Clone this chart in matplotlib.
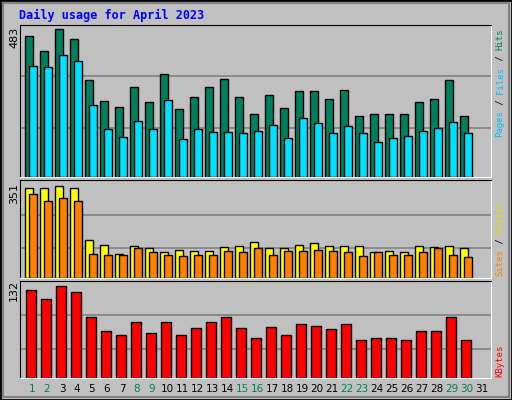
import matplotlib
matplotlib.use("Agg")
import matplotlib.pyplot as plt
from matplotlib.patches import Rectangle

days = list(range(1, 32))
hits = [461, 412, 483, 451, 316, 247, 227, 293, 244, 336, 221, 260, 293, 319, 260,
        204, 267, 224, 280, 280, 254, 283, 198, 207, 204, 204, 244, 254, 316, 198]
files = [362, 359, 398, 379, 234, 158, 132, 184, 158, 250, 125, 158, 148, 148, 145,
         151, 171, 128, 194, 175, 142, 168, 145, 115, 128, 135, 151, 161, 181, 145]
sites = [340, 340, 351, 340, 146, 127, 93, 123, 112, 97, 108, 104, 104, 116, 123,
         135, 112, 112, 127, 131, 120, 123, 120, 97, 104, 100, 120, 116, 120, 112]
visits = [317, 291, 305, 294, 93, 89, 89, 112, 97, 89, 85, 89, 89, 104, 100,
          112, 89, 104, 104, 108, 104, 97, 85, 100, 89, 89, 97, 112, 89, 81]
kbytes = [126, 113, 132, 123, 87, 68, 62, 80, 65, 80, 62, 71, 80, 87, 71,
          57, 73, 61, 77, 75, 70, 77, 55, 57, 57, 54, 67, 68, 87, 55]
weekend = [1, 2, 8, 9, 15, 16, 22, 23, 29, 30]

GRAY = "#C0C0C0"
GREEN = "#00805C"
fig = plt.figure(figsize=(5.12, 4.0), dpi=100, facecolor=GRAY)
fig.patches.append(Rectangle((0, 0), 1, 1, transform=fig.transFigure, fill=False,
                             edgecolor="black", lw=2))
fig.patches.append(Rectangle((0.006, 0.008), 0.988, 0.985, transform=fig.transFigure,
                             fill=False, edgecolor="#808080", lw=1.5))

def px(l, t, r, b):
    return [l / 512, 1 - b / 400, (r - l) / 512, (b - t) / 400]

def panel(rect, ymax):
    ax = fig.add_axes(rect)
    ax.set_facecolor(GRAY)
    ax.set_xlim(0.27, 31.67)
    ax.set_ylim(0, ymax)
    ax.set_xticks([])
    ax.set_yticks([])
    for s in ax.spines.values():
        s.set_color("black")
    ax.spines["right"].set_color("white")
    ax.spines["bottom"].set_color("white")
    return ax

d = days[:30]
# top panel
ax1 = panel(px(20, 25, 491, 177), 496)
for f in (0.33, 0.68):
    ax1.axhline(f * 483, color="#808080", lw=1.2, zorder=0)
ax1.bar([x - 0.4 for x in d], hits, width=0.55, align="edge", color=GREEN, edgecolor="black", lw=1)
ax1.bar([x - 0.13 for x in d], files, width=0.55, align="edge", color="#00E0FF", edgecolor="black", lw=1)

# middle panel
ax2 = panel(px(20, 180, 491, 278), 372)
for f in (0.326, 0.685):
    ax2.axhline(f * 351, color="#808080", lw=1.2, zorder=0)
ax2.bar([x - 0.4 for x in d], sites, width=0.55, align="edge", color="#FFFF00", edgecolor="black", lw=1)
ax2.bar([x - 0.13 for x in d], visits, width=0.55, align="edge", color="#FF8000", edgecolor="black", lw=1)

# bottom panel
ax3 = panel(px(20, 281, 491, 378), 139)
for f in (0.32, 0.68):
    ax3.axhline(f * 132, color="#808080", lw=1.2, zorder=0)
ax3.bar([x - 0.35 for x in d], kbytes, width=0.7, align="edge", color="#FF0000", edgecolor="black", lw=1)

# max labels
sans = "DejaVu Sans"
fig.text(14 / 512, 1 - 37 / 400, "483", rotation=90, ha="center", va="center", fontsize=8, family=sans)
fig.text(14 / 512, 1 - 194 / 400, "351", rotation=90, ha="center", va="center", fontsize=8, family=sans)
fig.text(14 / 512, 1 - 290 / 400, "132", rotation=90, ha="center", va="center", fontsize=8, family=sans)

# right side labels, read bottom to top
FS = 6.5
CHAR = 0.602 * FS * 100 / 72  # monospace advance in pixels

def vlabel(parts, y0):
    y = y0
    for txt, col in parts:
        fig.text(500 / 512, y / 400, txt, rotation=90, ha="center", va="bottom",
                 fontsize=FS, color=col, family="DejaVu Sans Mono")
        y += len(txt) * CHAR

vlabel([("Pages", "#00C0FF"), (" / ", "black"), ("Files", "#00C0FF"), (" / ", "black"), ("Hits", GREEN)], 400 - 137)
vlabel([("Sites", "#FF8000"), (" / ", "black"), ("Visits", "#E0E000")], 400 - 276)
vlabel([("KBytes", "#FF0000")], 400 - 377)

# day labels
for x in days:
    fx = 20 / 512 + (x - 0.27) / 31.4 * (471 / 512)
    fig.text(fx + 0.002, 1 - 389 / 400, str(x), ha="center", va="center", fontsize=7.5,
             color=GREEN if x in weekend else "black", family=sans)

fig.text(19 / 512, 1 - 15 / 400, "Daily usage for April 2023", ha="left", va="center",
         fontsize=8.5, color="#0000FF", weight="bold", family="DejaVu Sans Mono")

fig.savefig("out.png", dpi=100, facecolor=GRAY)
